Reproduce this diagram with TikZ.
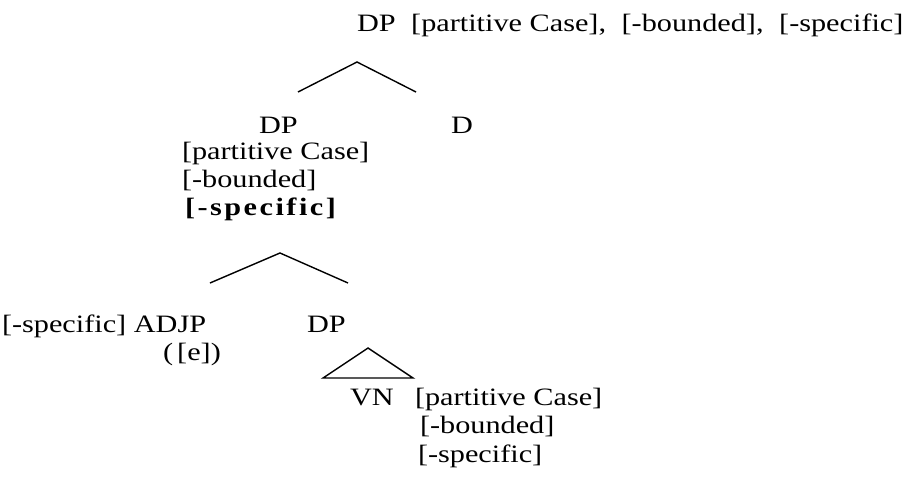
\documentclass[tikz,border=0pt]{standalone}
\usepackage{fontspec}
\setmainfont{Liberation Serif}[FakeStretch=1.21]
\newfontfamily\featbold{Liberation Serif Bold}[FakeStretch=1.21,LetterSpace=10]
\newcommand{\gap}{\hspace{8pt}}
\begin{document}
\begin{tikzpicture}[x=1pt,y=-1pt,
  lbl/.style={anchor=base west,inner sep=0pt,outer sep=0pt,font=\fontsize{25}{28}\selectfont},
  branch/.style={line width=1.4pt,line join=miter}]
\useasboundingbox (0,0) rectangle (916,491);

% labels
\node[lbl] (root) at (357,31) {DP \gap[partitive Case], \gap[-bounded], \gap[-specific]};
\node[lbl] (dpa) at (259,133) {DP};
\node[lbl] (d) at (451,133) {D};
\node[lbl] (fa1) at (182,159) {[partitive Case]};
\node[lbl] (fa2) at (182,187) {[-bounded]};
\node[lbl] (fa3) at (185,215) {\featbold [-specific]};
\node[lbl] (adjp) at (2,332) {[-specific] ADJP};
\node[lbl] (empty) at (163,360) {(\,[e])};
\node[lbl] (dpb) at (307,332) {DP};
\node[lbl] (vn) at (350,405) {VN};
\node[lbl] (fb1) at (415,405) {[partitive Case]};
\node[lbl] (fb2) at (420,433) {[-bounded]};
\node[lbl] (fb3) at (418,462) {[-specific]};

% branch points
\coordinate (top) at (357,62);
\coordinate (topL) at (298,92);
\coordinate (topR) at (416,92);
\coordinate (mid) at (280,253);
\coordinate (midL) at (210,283);
\coordinate (midR) at (348,283);
\coordinate (tri) at (368,348);
\coordinate (triL) at (323,378);
\coordinate (triR) at (413,378);

\draw[branch] (topL) -- (top) -- (topR);
\draw[branch] (midL) -- (mid) -- (midR);
\draw[branch] (tri) -- (triL) -- (triR) -- cycle;
\end{tikzpicture}
\end{document}
